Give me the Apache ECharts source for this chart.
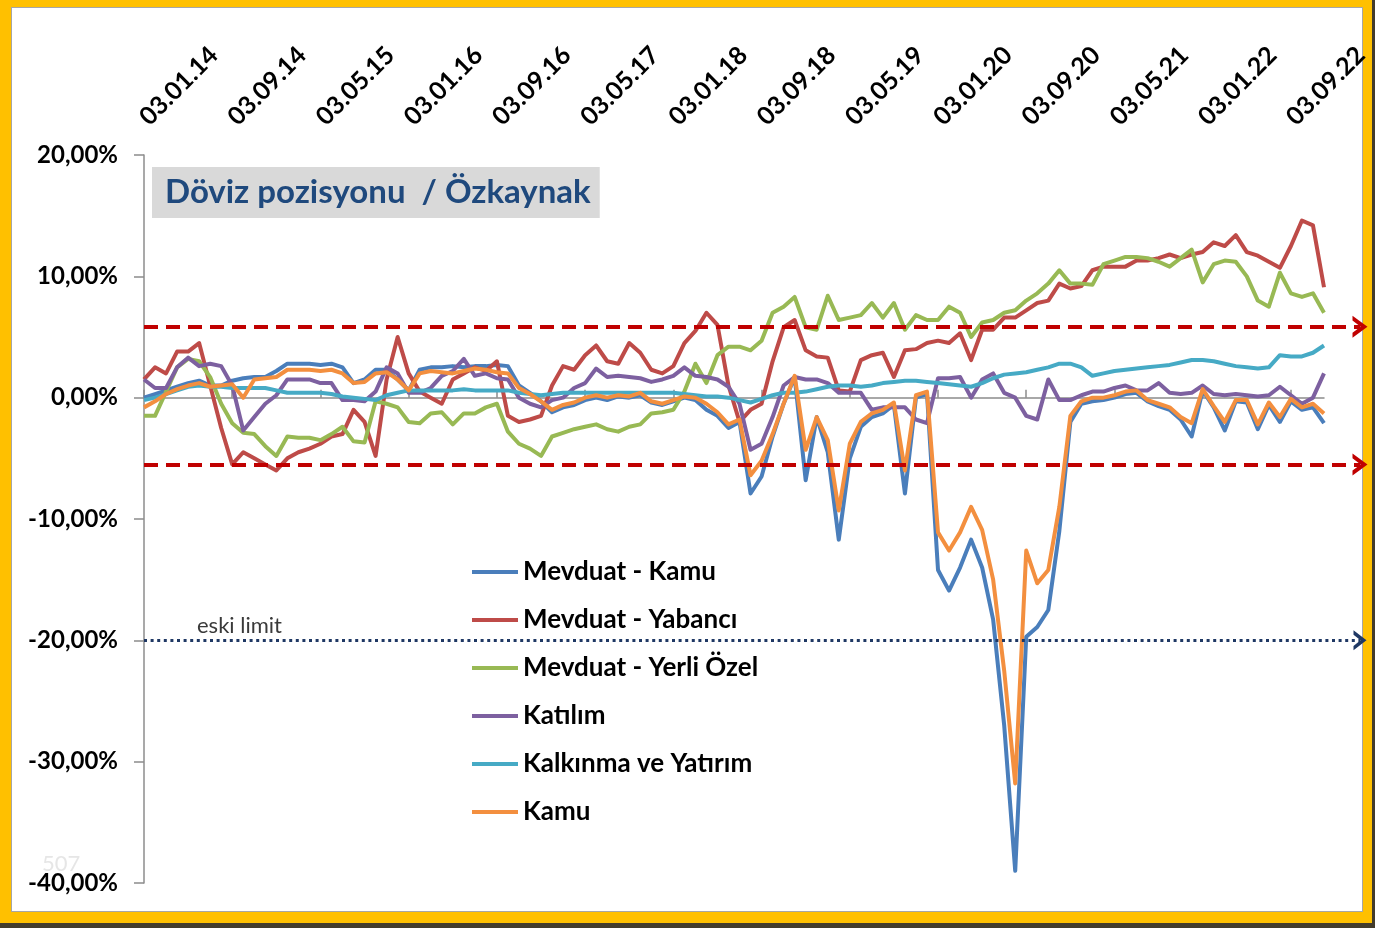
<!DOCTYPE html>
<html>
<head>
<meta charset="utf-8">
<script src="https://cdn.jsdelivr.net/npm/echarts@6/dist/echarts.min.js"></script>
<style>
  html, body { margin: 0; padding: 0; }
  body { width: 1375px; height: 928px; background: #433c2c; position: relative; overflow: hidden; }
  #frame { position: absolute; left: 0; top: 0; width: 1372px; height: 923px; background: #FFC000; }
  #inner { position: absolute; left: 11px; top: 7px; width: 1350px; height: 903px; background: #fff; border: 1px solid #a6a6a6; }
  #chart { position: absolute; left: 0; top: 0; width: 1375px; height: 928px; }
</style>
</head>
<body>
<div id="frame"></div>
<div id="inner"></div>
<div id="chart"></div>
<script>
// ---- Data (monthly, Jan 2014 .. Dec 2022), values in % ----
const startYear = 2014, monthCount = 108;
const categories = [];
for (let i = 0; i < monthCount; i++) {
  const y = startYear + Math.floor(i / 12), m = (i % 12) + 1;
  categories.push('03.' + String(m).padStart(2, '0') + '.' + String(y % 100).padStart(2, '0'));
}

const seriesNames = ['Mevduat - Kamu', 'Mevduat - Yabancı', 'Mevduat - Yerli Özel', 'Katılım', 'Kalkınma ve Yatırım', 'Kamu'];
const seriesColors = ['#4A7EBB', '#BE4B48', '#98B954', '#7D60A0', '#46AAC5', '#F38F3F'];

const mevduatKamu = [
  0.0,0.3,0.6,0.9,1.2,1.4,1.0,1.0,1.4,1.6,
  1.7,1.7,2.2,2.8,2.8,2.8,2.7,2.8,2.5,1.2,
  1.5,2.3,2.3,1.5,0.6,2.3,2.5,2.5,2.6,2.5,
  2.6,2.6,2.7,2.6,1.0,0.4,-0.3,-1.2,-0.8,-0.6,
  -0.2,0.0,-0.2,0.1,0.0,0.2,-0.4,-0.6,-0.3,0.0,
  -0.2,-1.0,-1.5,-2.5,-2.0,-7.9,-6.5,-3.2,-0.5,1.7,
  -6.8,-1.6,-4.5,-11.7,-5.0,-2.4,-1.6,-1.3,-0.6,-7.9,
  0.0,0.3,-14.2,-15.9,-14.0,-11.7,-14.0,-18.3,-27.0,-39.0,
  -19.7,-18.9,-17.5,-11.0,-2.0,-0.5,-0.3,-0.2,0.0,0.3,
  0.4,-0.3,-0.7,-1.0,-1.8,-3.2,0.6,-0.8,-2.7,-0.3,
  -0.4,-2.6,-0.6,-2.0,-0.3,-1.0,-0.8,-2.1
];
const mevduatYabanci = [
  1.5,2.5,2.0,3.8,3.8,4.5,1.0,-2.5,-5.5,-4.5,
  -5.0,-5.5,-6.0,-5.0,-4.5,-4.2,-3.8,-3.2,-3.0,-1.0,
  -2.0,-4.8,1.5,5.0,2.0,0.5,0.0,-0.5,1.5,2.0,
  2.5,2.2,3.0,-1.5,-2.0,-1.8,-1.5,1.0,2.6,2.3,
  3.5,4.3,3.0,2.8,4.5,3.7,2.3,2.0,2.6,4.5,
  5.5,7.0,6.0,1.0,-2.0,-1.0,-0.5,3.0,5.8,6.4,
  3.9,3.4,3.3,0.6,0.5,3.1,3.5,3.7,1.7,3.9,
  4.0,4.5,4.7,4.5,5.3,3.1,5.6,5.6,6.6,6.6,
  7.2,7.8,8.0,9.4,9.0,9.2,10.5,10.8,10.8,10.8,
  11.3,11.3,11.5,11.8,11.5,11.8,12.0,12.8,12.5,13.4,
  12.0,11.7,11.2,10.7,12.5,14.6,14.2,9.1
];
const mevduatYerliOzel = [
  -1.5,-1.5,0.5,2.5,3.2,3.0,1.7,-0.5,-2.1,-2.9,
  -3.0,-4.0,-4.8,-3.2,-3.3,-3.3,-3.5,-3.0,-2.4,-3.6,
  -3.7,-0.3,-0.5,-0.8,-2.0,-2.1,-1.3,-1.2,-2.2,-1.3,
  -1.3,-0.8,-0.5,-2.8,-3.8,-4.2,-4.8,-3.2,-2.9,-2.6,
  -2.4,-2.2,-2.6,-2.8,-2.4,-2.2,-1.3,-1.2,-1.0,0.5,
  2.8,1.2,3.5,4.2,4.2,3.9,4.7,7.0,7.5,8.3,
  5.8,5.6,8.4,6.4,6.6,6.8,7.8,6.6,7.8,5.6,
  6.8,6.4,6.4,7.5,7.0,5.0,6.2,6.4,7.0,7.2,
  8.0,8.6,9.4,10.5,9.4,9.4,9.3,11.0,11.3,11.6,
  11.6,11.5,11.2,10.8,11.5,12.2,9.5,11.0,11.3,11.2,
  10.0,8.0,7.5,10.3,8.6,8.3,8.6,7.0
];
const katilim = [
  1.5,0.8,0.8,2.5,3.3,2.6,2.8,2.6,1.0,-2.7,
  -1.6,-0.5,0.2,1.5,1.5,1.5,1.2,1.2,-0.2,-0.2,
  -0.3,0.5,2.5,2.0,0.4,0.4,0.8,1.8,2.2,3.2,
  1.8,2.0,1.6,1.5,0.0,-0.5,-0.8,-0.2,0.0,0.8,
  1.2,2.4,1.7,1.8,1.7,1.6,1.3,1.5,1.8,2.5,
  1.8,1.7,1.5,0.9,-0.5,-4.3,-3.8,-1.6,1.0,1.7,
  1.5,1.5,1.2,0.4,0.4,0.4,-1.0,-0.8,-0.8,-0.8,
  -1.8,-2.1,1.6,1.6,1.7,0.0,1.5,2.0,0.4,0.0,
  -1.5,-1.8,1.5,-0.2,-0.2,0.2,0.5,0.5,0.8,1.0,
  0.6,0.6,1.2,0.4,0.3,0.4,1.0,0.3,0.2,0.3,
  0.2,0.1,0.2,0.9,0.2,-0.5,0.0,2.0
];
const kalkinmaYatirim = [
  -0.2,0.0,0.3,0.6,0.9,1.0,0.9,0.9,0.8,0.8,
  0.8,0.8,0.6,0.4,0.4,0.4,0.4,0.3,0.1,0.0,
  -0.1,-0.2,0.2,0.4,0.6,0.6,0.6,0.6,0.6,0.7,
  0.6,0.6,0.6,0.6,0.4,0.3,0.2,0.3,0.4,0.4,
  0.4,0.4,0.4,0.4,0.4,0.4,0.4,0.4,0.4,0.3,
  0.2,0.1,0.1,0.0,-0.2,-0.4,-0.1,0.2,0.4,0.4,
  0.5,0.7,0.9,1.0,1.0,0.9,1.0,1.2,1.3,1.4,
  1.4,1.3,1.2,1.1,1.0,0.9,1.2,1.6,1.9,2.0,
  2.1,2.3,2.5,2.8,2.8,2.5,1.8,2.0,2.2,2.3,
  2.4,2.5,2.6,2.7,2.9,3.1,3.1,3.0,2.8,2.6,
  2.5,2.4,2.5,3.5,3.4,3.4,3.7,4.3
];
const kamu = [
  -0.8,-0.3,0.3,0.7,1.0,1.2,0.9,1.0,1.1,0.0,
  1.5,1.6,1.7,2.3,2.3,2.3,2.2,2.3,2.0,1.2,
  1.3,2.0,2.1,1.5,0.6,2.0,2.2,2.1,2.0,2.2,
  2.4,2.3,2.1,2.0,0.8,0.3,-0.3,-1.0,-0.6,-0.4,
  0.0,0.2,0.0,0.2,0.1,0.4,-0.3,-0.5,-0.2,0.1,
  0.0,-0.5,-1.2,-2.2,-1.8,-6.4,-5.2,-3.0,-0.5,1.8,
  -4.3,-1.6,-3.5,-9.3,-3.8,-2.0,-1.3,-1.0,-0.4,-6.0,
  0.2,0.5,-11.1,-12.6,-11.1,-9.0,-10.9,-15.0,-22.5,-31.8,
  -12.6,-15.3,-14.2,-9.0,-1.5,-0.3,0.0,0.0,0.2,0.5,
  0.6,-0.2,-0.5,-0.8,-1.6,-2.1,0.7,-0.7,-2.0,-0.2,
  -0.2,-2.2,-0.4,-1.6,-0.1,-0.8,-0.5,-1.3
];
const seriesValues = [mevduatKamu, mevduatYabanci, mevduatYerliOzel, katilim, kalkinmaYatirim, kamu];

// reference levels (%)
const bandLevels = [5.85, -5.5];
const oldLimit = -20;
const yMin = -40, yMax = 20, yStep = 10;

const FONT = 'Lato, "Open Sans", sans-serif';
const chart = echarts.init(document.getElementById('chart'), null, { renderer: 'canvas' });

const arrowPath = 'path://M0,12 L8,0 L16,12 L12.5,12 L8,5.5 L3.5,12 Z';

const lineSeries = seriesNames.map((name, k) => ({
  name: name,
  type: 'line',
  xAxisIndex: 0, yAxisIndex: 0,
  data: seriesValues[k],
  showSymbol: false,
  symbol: 'none',
  lineStyle: { width: 4, color: seriesColors[k], join: 'round' },
  itemStyle: { color: seriesColors[k] },
  animation: false,
  z: 3
}));

const refSeries = {
  type: 'line',
  xAxisIndex: 1, yAxisIndex: 1,
  data: [],
  silent: true,
  animation: false,
  z: 5,
  markLine: {
    silent: true,
    animation: false,
    symbol: ['none', arrowPath],
    symbolSize: [22, 15],
    data: [
      ...bandLevels.map(v => ([
        { coord: [0, v], lineStyle: { color: '#C00000', width: 4, type: [14, 8] }, label: { show: false } },
        { coord: [1, v] }
      ])),
      [
        { coord: [0, oldLimit],
          lineStyle: { color: '#1F3864', width: 3, type: [3, 3.6] },
          symbol: 'none',
          label: { show: true, position: 'insideStartTop', formatter: 'eski limit', color: '#3a3a3a',
                   fontFamily: FONT, fontSize: 22, padding: [0, 0, 0, 50], distance: 3 } },
        { coord: [1, oldLimit], symbol: arrowPath, symbolSize: [20, 13] }
      ]
    ]
  }
};

chart.setOption({
  backgroundColor: 'transparent',
  animation: false,
  textStyle: { fontFamily: FONT },
  title: {
    text: 'Döviz pozisyonu  / Özkaynak',
    left: 152, top: 167,
    backgroundColor: '#D9D9D9',
    padding: [8, 9, 8, 13],
    textStyle: { fontFamily: FONT, fontSize: 33, fontWeight: 'bold', color: '#1F497D', lineHeight: 35 }
  },
  legend: {
    orient: 'vertical',
    left: 472, top: 559,
    padding: 0,
    icon: 'rect',
    itemWidth: 46, itemHeight: 4,
    itemGap: 22,
    data: seriesNames,
    textStyle: { fontFamily: FONT, fontSize: 26, fontWeight: 'bold', color: '#000', lineHeight: 26 }
  },
  grid: [
    { left: 144, right: 51, top: 155, bottom: 45, containLabel: false },
    { left: 144, right: 15, top: 155, bottom: 45, containLabel: false }
  ],
  xAxis: [
    {
      type: 'category', gridIndex: 0, position: 'top',
      data: categories, boundaryGap: false,
      axisLine: { show: true, lineStyle: { color: '#8c8c8c', width: 1.5 } },
      axisTick: { show: true, interval: 7, length: 8, lineStyle: { color: '#8c8c8c', width: 1.5 } },
      axisLabel: { interval: 7, rotate: 45, margin: 34, fontFamily: FONT, fontSize: 25, fontWeight: 'bold', color: '#000' },
      splitLine: { show: false }
    },
    { type: 'value', gridIndex: 1, min: 0, max: 1, show: false }
  ],
  yAxis: [
    {
      type: 'value', gridIndex: 0, min: yMin, max: yMax, interval: yStep,
      axisLine: { show: true, lineStyle: { color: '#8c8c8c', width: 1.5 } },
      axisTick: { show: true, length: 10, lineStyle: { color: '#8c8c8c', width: 1.5 } },
      axisLabel: { margin: 26, fontFamily: FONT, fontSize: 24, fontWeight: 'bold', color: '#000',
                   formatter: v => v.toFixed(2).replace('.', ',') + '%' },
      splitLine: { show: false }
    },
    { type: 'value', gridIndex: 1, min: yMin, max: yMax, show: false }
  ],
  graphic: [
    { type: 'text', left: 42, top: 853, z: 0, silent: true,
      style: { text: '507', fill: '#e6e6e6', font: '22px ' + FONT } }
  ],
  series: [...lineSeries, refSeries]
});
</script>
</body>
</html>
